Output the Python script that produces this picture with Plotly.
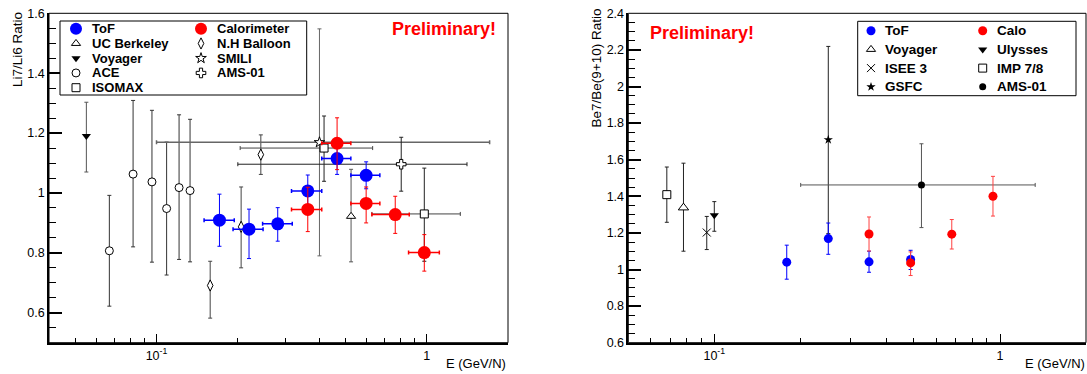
import plotly.graph_objects as go

# ---------------- Left panel: Li7/Li6 ratio ----------------
tof_li_E = [0.171, 0.220, 0.281, 0.363, 0.466, 0.597]
tof_li_Elo = [0.150, 0.192, 0.247, 0.316, 0.409, 0.524]
tof_li_Ehi = [0.194, 0.248, 0.318, 0.409, 0.524, 0.671]
tof_li_R = [0.909, 0.879, 0.897, 1.007, 1.115, 1.059]
tof_li_up = [0.087, 0.067, 0.054, 0.053, 0.050, 0.045]
tof_li_dn = [0.087, 0.098, 0.058, 0.055, 0.053, 0.045]

calo_li_E = [0.363, 0.466, 0.597, 0.765, 0.980]
calo_li_Elo = [0.316, 0.409, 0.524, 0.627, 0.857]
calo_li_Ehi = [0.409, 0.524, 0.671, 0.862, 1.114]
calo_li_R = [0.945, 1.166, 0.965, 0.928, 0.801]
calo_li_up = [0.074, 0.085, 0.055, 0.061, 0.060]
calo_li_dn = [0.074, 0.088, 0.065, 0.063, 0.062]

ucb_li_E = [0.525]
ucb_li_R = [0.922]
ucb_li_up = [0.157]
ucb_li_dn = [0.152]

voy_li_E = [0.055]
voy_li_R = [1.190]
voy_li_up = [0.113]
voy_li_dn = [0.120]

ace_li_E = [0.0669, 0.0819, 0.0962, 0.109, 0.1212, 0.1331]
ace_li_R = [0.807, 1.063, 1.037, 0.948, 1.018, 1.008]
ace_li_up = [0.185, 0.246, 0.239, 0.222, 0.243, 0.238]
ace_li_dn = [0.185, 0.243, 0.268, 0.222, 0.240, 0.238]

nhb_li_E = [0.158, 0.2057, 0.2433]
nhb_li_R = [0.691, 0.887, 1.128]
nhb_li_up = [0.081, 0.133, 0.066]
nhb_li_dn = [0.109, 0.137, 0.066]

smili_li_E = [0.401]
smili_li_Elo = [0.100]
smili_li_Ehi = [1.71]
smili_li_R = [1.169]
smili_li_up = [0.379]
smili_li_dn = [0.379]

isomax_li_E = [0.417, 0.980]
isomax_li_Elo = [0.204, 0.627]
isomax_li_Ehi = [0.631, 1.332]
isomax_li_R = [1.150, 0.930]
isomax_li_up = [0.107, 0.153]
isomax_li_dn = [0.111, 0.158]

ams_li_E = [0.805]
ams_li_Elo = [0.200]
ams_li_Ehi = [1.41]
ams_li_R = [1.096]
ams_li_up = [0.090]
ams_li_dn = [0.090]

# ---------------- Right panel: Be7/Be(9+10) ratio ----------------
tof_be_E = [0.1793, 0.2506, 0.348, 0.4866]
tof_be_R = [1.040, 1.169, 1.042, 1.055]
tof_be_up = [0.093, 0.085, 0.058, 0.050]
tof_be_dn = [0.093, 0.086, 0.057, 0.055]

calo_be_E = [0.348, 0.4866, 0.678, 0.945]
calo_be_R = [1.194, 1.036, 1.193, 1.400]
calo_be_up = [0.093, 0.060, 0.080, 0.109]
calo_be_dn = [0.093, 0.069, 0.081, 0.108]

voy_be_E = [0.078]
voy_be_R = [1.338]
voy_be_up = [0.243]
voy_be_dn = [0.238]

uly_be_E = [0.100]
uly_be_R = [1.296]
uly_be_up = [0.075]
uly_be_dn = [0.087]

isee_be_E = [0.0941]
isee_be_R = [1.202]
isee_be_up = [0.088]
isee_be_dn = [0.093]

imp_be_E = [0.0682]
imp_be_R = [1.409]
imp_be_up = [0.151]
imp_be_dn = [0.151]

gsfc_be_E = [0.2506]
gsfc_be_R = [1.709]
gsfc_be_up = [0.510]
gsfc_be_dn = [0.513]

ams_be_E = [0.531]
ams_be_Elo = [0.2006]
ams_be_Ehi = [1.328]
ams_be_R = [1.462]
ams_be_up = [0.225]
ams_be_dn = [0.233]

left_yticks = [0.6, 0.8, 1.0, 1.2, 1.4, 1.6]
left_yticktext = ["0.6", "0.8", "1", "1.2", "1.4", "1.6"]
right_yticks = [0.6, 0.8, 1.0, 1.2, 1.4, 1.6, 1.8, 2.0, 2.2, 2.4]
right_yticktext = ["0.6", "0.8", "1", "1.2", "1.4", "1.6", "1.8", "2", "2.2", "2.4"]
xticks = [0.1, 1.0]
xticktext = ["10<sup>-1</sup>", "1"]

BLUE = "#0000ff"
RED = "#ff0000"
FONT = "Liberation Sans, Arial, Helvetica, sans-serif"

fig = go.Figure()


def ebar(up, dn, color, width=2, thick=1):
    return dict(type="data", symmetric=False, array=up, arrayminus=dn,
                color=color, thickness=thick, width=width)


def xbar(E, lo, hi, color, width=2, thick=1):
    return dict(type="data", symmetric=False,
                array=[h - e for h, e in zip(hi, E)],
                arrayminus=[e - l for e, l in zip(E, lo)],
                color=color, thickness=thick, width=width)


def add(E, R, up, dn, marker, color, xa="x", ya="y", xerr=None, ecol=None):
    tr = go.Scatter(x=E, y=R, mode="markers", xaxis=xa, yaxis=ya,
                    marker=marker, showlegend=False,
                    error_y=ebar(up, dn, ecol or color))
    if xerr is not None:
        tr.error_x = xerr
    fig.add_trace(tr)


def open_marker(symbol, size):
    return dict(symbol=symbol, size=size, color="white",
                line=dict(color="black", width=1))


# ---- left panel reference data
add(voy_li_E, voy_li_R, voy_li_up, voy_li_dn,
    dict(symbol="triangle-down", size=8, color="black"), "#555")
add(ace_li_E, ace_li_R, ace_li_up, ace_li_dn, open_marker("circle", 8), "#333")
add(nhb_li_E, nhb_li_R, nhb_li_up, nhb_li_dn, open_marker("diamond-tall", 8), "#444")
add(ucb_li_E, ucb_li_R, ucb_li_up, ucb_li_dn, open_marker("triangle-up", 8), "#555")
add(smili_li_E, smili_li_R, smili_li_up, smili_li_dn, open_marker("star", 8), "#666",
    xerr=xbar(smili_li_E, smili_li_Elo, smili_li_Ehi, "#666", thick=1.5))
add(isomax_li_E, isomax_li_R, isomax_li_up, isomax_li_dn, open_marker("square", 8), "#222",
    xerr=xbar(isomax_li_E, isomax_li_Elo, isomax_li_Ehi, "#444"))
add(ams_li_E, ams_li_R, ams_li_up, ams_li_dn, open_marker("cross", 8), "#222",
    xerr=xbar(ams_li_E, ams_li_Elo, ams_li_Ehi, "#222"))
add(tof_li_E, tof_li_R, tof_li_up, tof_li_dn, dict(symbol="circle", size=13, color=BLUE),
    BLUE, xerr=xbar(tof_li_E, tof_li_Elo, tof_li_Ehi, BLUE, thick=1.5), ecol=BLUE)
add(calo_li_E, calo_li_R, calo_li_up, calo_li_dn, dict(symbol="circle", size=13, color=RED),
    RED, xerr=xbar(calo_li_E, calo_li_Elo, calo_li_Ehi, RED, thick=1.5), ecol=RED)

# ---- right panel
add(imp_be_E, imp_be_R, imp_be_up, imp_be_dn, open_marker("square", 8), "#222", "x2", "y2")
add(voy_be_E, voy_be_R, voy_be_up, voy_be_dn, open_marker("triangle-up", 9), "#222", "x2", "y2")
add(isee_be_E, isee_be_R, isee_be_up, isee_be_dn,
    dict(symbol="x-thin", size=8, line=dict(color="black", width=1)), "#222", "x2", "y2")
add(uly_be_E, uly_be_R, uly_be_up, uly_be_dn,
    dict(symbol="triangle-down", size=8, color="black"), "#222", "x2", "y2")
add(gsfc_be_E, gsfc_be_R, gsfc_be_up, gsfc_be_dn,
    dict(symbol="star", size=7, color="black"), "#222", "x2", "y2")
add(ams_be_E, ams_be_R, ams_be_up, ams_be_dn,
    dict(symbol="circle", size=7, color="black"), "#555", "x2", "y2",
    xerr=xbar(ams_be_E, ams_be_Elo, ams_be_Ehi, "#555"))
add(tof_be_E, tof_be_R, tof_be_up, tof_be_dn, dict(symbol="circle", size=9, color=BLUE),
    BLUE, "x2", "y2")
add(calo_be_E, calo_be_R, calo_be_up, calo_be_dn, dict(symbol="circle", size=9, color=RED),
    "#ff4040", "x2", "y2")

# ---------------- legends (drawn on a pixel-coordinate overlay axis) ----------------
W, H = 1087, 374
legend_left = [
    ("ToF", 0, 0, dict(symbol="circle", size=12, color=BLUE)),
    ("UC Berkeley", 0, 1, open_marker("triangle-up", 8)),
    ("Voyager", 0, 2, dict(symbol="triangle-down", size=8, color="black")),
    ("ACE", 0, 3, open_marker("circle", 8)),
    ("ISOMAX", 0, 4, open_marker("square", 8)),
    ("Calorimeter", 1, 0, dict(symbol="circle", size=12, color=RED)),
    ("N.H Balloon", 1, 1, open_marker("diamond-tall", 8)),
    ("SMILI", 1, 2, open_marker("star", 8)),
    ("AMS-01", 1, 3, open_marker("cross", 8)),
]
legend_right = [
    ("ToF", 0, 0, dict(symbol="circle", size=9, color=BLUE)),
    ("Voyager", 0, 1, open_marker("triangle-up", 8)),
    ("ISEE 3", 0, 2, dict(symbol="x-thin", size=8, line=dict(color="black", width=1))),
    ("GSFC", 0, 3, dict(symbol="star", size=7, color="black")),
    ("Calo", 1, 0, dict(symbol="circle", size=9, color=RED)),
    ("Ulysses", 1, 1, dict(symbol="triangle-down", size=8, color="black")),
    ("IMP 7/8", 1, 2, open_marker("square", 8)),
    ("AMS-01", 1, 3, dict(symbol="circle", size=7, color="black")),
]

annotations = []
shapes = []


def build_legend(entries, box, col_marker, col_text, row0, drow, fsize):
    x0, y0, x1, y1 = box
    shapes.append(dict(type="rect", xref="x3", yref="y3", x0=x0, y0=y0, x1=x1, y1=y1,
                       line=dict(color="black", width=1), fillcolor="white", layer="below"))
    for name, col, row, mk in entries:
        yy = row0 + drow * row
        fig.add_trace(go.Scatter(x=[col_marker[col]], y=[yy], mode="markers",
                                 xaxis="x3", yaxis="y3", marker=mk, showlegend=False,
                                 hoverinfo="skip"))
        annotations.append(dict(x=col_text[col], y=yy, xref="x3", yref="y3",
                                text="<b>%s</b>" % name, showarrow=False,
                                xanchor="left", yanchor="middle",
                                font=dict(family=FONT, size=fsize, color="black")))


build_legend(legend_left, (60, 21, 306.7, 95), [76, 201], [89.5, 214.5], 28.7, 14.75, 13)
build_legend(legend_right, (857.7, 21.3, 1076, 95.7), [871, 982.7], [883, 995], 30.7, 18.7, 13.5)

# Texts
annotations += [
    dict(x=443.8, y=29.3, xref="x3", yref="y3", text="<b>Preliminary!</b>", showarrow=False,
         xanchor="center", yanchor="middle", font=dict(family=FONT, size=18, color=RED)),
    dict(x=702, y=33.3, xref="x3", yref="y3", text="<b>Preliminary!</b>", showarrow=False,
         xanchor="center", yanchor="middle", font=dict(family=FONT, size=18, color=RED)),
    dict(x=507.5, y=363, xref="x3", yref="y3", text="E (GeV/N)", showarrow=False,
         xanchor="right", yanchor="middle", font=dict(family=FONT, size=13, color="black")),
    dict(x=1086.5, y=363, xref="x3", yref="y3", text="E (GeV/N)", showarrow=False,
         xanchor="right", yanchor="middle", font=dict(family=FONT, size=13, color="black")),
    dict(x=17.5, y=10, xref="x3", yref="y3", text="Li7/Li6 Ratio", showarrow=False,
         textangle=-90, xanchor="center", yanchor="top",
         font=dict(family=FONT, size=13.5, color="black")),
    dict(x=596, y=7, xref="x3", yref="y3", text="Be7/Be(9+10) Ratio", showarrow=False,
         textangle=-90, xanchor="center", yanchor="top",
         font=dict(family=FONT, size=13.5, color="black")),
]

# Frames
for xd, yd in (("x domain", "y domain"), ("x2 domain", "y2 domain")):
    shapes.append(dict(type="rect", xref=xd, yref=yd, x0=0, y0=0, x1=1, y1=1,
                       line=dict(color="black", width=1), layer="above"))

ydom = [31.3 / H, 360.7 / H]
tickfont = dict(family=FONT, size=12.5, color="black")


def xaxis_cfg(dom, rng, minor_vals):
    return dict(type="log", domain=dom, range=rng, tickmode="array", tickvals=xticks,
                ticktext=xticktext, ticks="inside", ticklen=9, tickwidth=1, tickcolor="black",
                showline=True, linecolor="black", linewidth=2, showgrid=False,
                zeroline=False, tickfont=tickfont, automargin=False,
                minor=dict(tickmode="array", tickvals=minor_vals, ticks="inside",
                           ticklen=5, tickcolor="black", tickwidth=1, showgrid=False))


def yaxis_cfg(anchor, rng, tv, tt, minor_vals):
    return dict(domain=ydom, range=rng, anchor=anchor, tickmode="array", tickvals=tv,
                ticktext=tt, ticks="inside", ticklen=13, tickwidth=1.5, tickcolor="black",
                showline=True, linecolor="black", linewidth=1.5, showgrid=False,
                zeroline=False, tickfont=tickfont, automargin=False,
                minor=dict(tickmode="array", tickvals=minor_vals, ticks="inside",
                           ticklen=7, tickcolor="black", tickwidth=1, showgrid=False))


left_minor_x = [0.05, 0.06, 0.07, 0.08, 0.09, 0.2, 0.3, 0.4, 0.5, 0.6, 0.7, 0.8, 0.9, 2.0]
right_minor_x = [0.06, 0.07, 0.08, 0.09, 0.2, 0.3, 0.4, 0.5, 0.6, 0.7, 0.8, 0.9, 2.0]
left_minor_y = [round(0.5 + 0.05 * i, 2) for i in range(23)]
right_minor_y = [round(0.6 + 0.05 * i, 2) for i in range(37)]

fig.update_layout(
    template="none",
    width=W, height=H, margin=dict(l=0, r=0, t=0, b=0, pad=0, autoexpand=False),
    paper_bgcolor="white", plot_bgcolor="rgba(0,0,0,0)",
    font=dict(family=FONT, color="black"),
    showlegend=False,
    xaxis=xaxis_cfg([49 / W, 508 / W], [-1.39794, 0.30103], left_minor_x) | dict(anchor="y"),
    yaxis=yaxis_cfg("x", [0.5, 1.6], left_yticks, left_yticktext, left_minor_y),
    xaxis2=xaxis_cfg([628.3 / W, 1086 / W], [-1.30103, 0.30103], right_minor_x) | dict(anchor="y2"),
    yaxis2=yaxis_cfg("x2", [0.6, 2.4], right_yticks, right_yticktext, right_minor_y),
    xaxis3=dict(domain=[0, 1], range=[0, W], visible=False, anchor="y3", fixedrange=True,
                automargin=False),
    yaxis3=dict(domain=[0, 1], range=[H, 0], visible=False, anchor="x3", fixedrange=True,
                automargin=False),
    annotations=annotations,
    shapes=shapes,
)

fig.write_html("out.html", config={"displayModeBar": False},
               post_script="document.body.style.margin='0px';")
